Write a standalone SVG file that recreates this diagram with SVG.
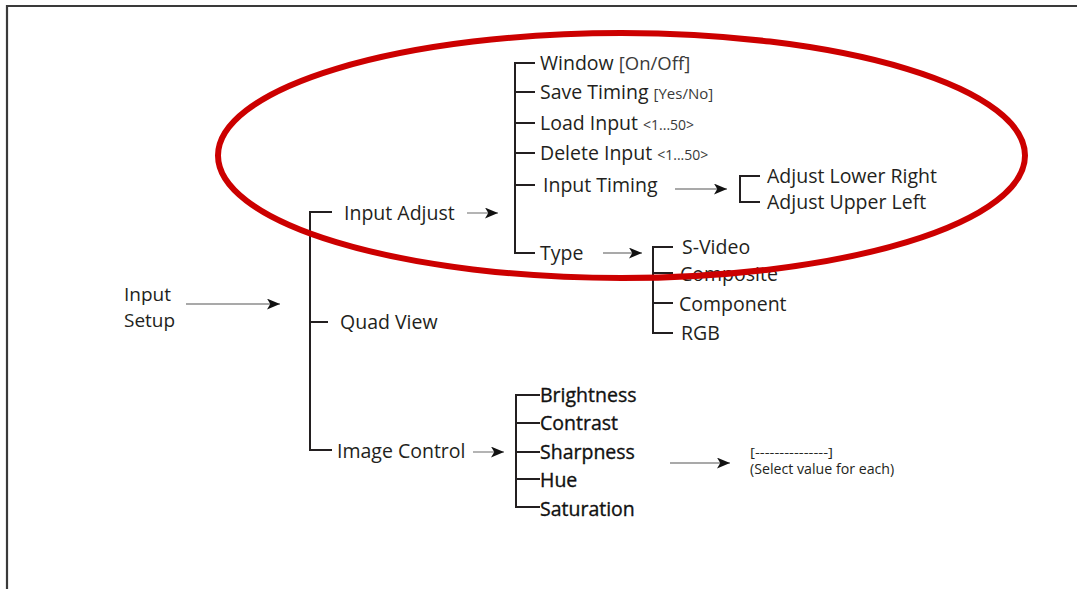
<svg xmlns="http://www.w3.org/2000/svg" width="1077" height="589" viewBox="0 0 1077 589">
  <defs>
    <marker id="arrow" viewBox="0 0 12 10" markerUnits="userSpaceOnUse" markerWidth="13" markerHeight="11" refX="12" refY="5" orient="auto">
      <path d="M0,0 L12,5 L0,10 L3,5 z" fill="#111"/>
    </marker>
    <style>
      text { font-family: "Open Sans", "Liberation Sans", sans-serif; fill: #231f20; }
      .lbl { font-size: 19.5px; }
      .heavy { fill: #111; stroke: #111; stroke-width: 0.35; }
      .sub { font-size: 15px; fill: #3a3a3a; }
      .sub-lg { font-size: 18.5px; fill: #3a3a3a; }
      .small { font-size: 14px; fill: #3a3a3a; }
      .note { font-size: 14.2px; }
      .dash { font-size: 12px; }
      .tree { fill: none; stroke: #231f20; stroke-width: 2; }
      .flow { fill: none; stroke: #8c8c8c; stroke-width: 1.3; marker-end: url(#arrow); }
      .frame { fill: none; stroke: #3a3a3a; stroke-width: 2.2; }
    </style>
  </defs>

  <rect width="1077" height="589" fill="#ffffff"/>
  <!-- page frame (top and left edges) -->
  <path class="frame" d="M7,589 V6 H1077"/>

  <!-- connectors -->
  <g id="connectors">
    <!-- arrows -->
    <line class="flow" x1="186" y1="304" x2="280" y2="304"/>
    <line class="flow" x1="467" y1="213" x2="498" y2="213"/>
    <line class="flow" x1="473" y1="452" x2="504" y2="452"/>
    <line class="flow" x1="675" y1="189" x2="727" y2="189"/>
    <line class="flow" x1="603" y1="253" x2="642" y2="253"/>
    <line class="flow" x1="670" y1="463" x2="730" y2="463"/>

    <!-- first level bracket -->
    <path class="tree" d="M332,212 H310 V450 H332 M310,322 H328"/>
    <!-- input adjust bracket -->
    <path class="tree" d="M535,63 H515 V253 H535 M515,92 H535 M515,123 H535 M515,153 H535 M515,185 H535"/>
    <!-- input timing bracket -->
    <path class="tree" d="M760,176 H740 V202 H760"/>
    <!-- type bracket -->
    <path class="tree" d="M673,247 H653 V333 H673 M653,273 H673 M653,303 H673"/>
    <!-- image control bracket -->
    <path class="tree" d="M540,395 H516 V507 H540 M516,423 H540 M516,452 H540 M516,479 H540"/>
  </g>

  <g id="input-setup">
    <text class="lbl" x="124" y="301" style="font-size:19px">Input<tspan x="124" dy="26">Setup</tspan></text>
  </g>

  <g id="input-adjust"><text class="lbl" x="344" y="220">Input Adjust</text></g>
  <g id="quad-view"><text class="lbl" x="340" y="329">Quad View</text></g>
  <g id="image-control"><text class="lbl" x="337" y="458">Image Control</text></g>

  <g id="window"><text class="lbl" x="540" y="70">Window <tspan class="sub-lg">[On/Off]</tspan></text></g>
  <g id="save-timing"><text class="lbl" x="540" y="99">Save Timing <tspan class="sub">[Yes/No]</tspan></text></g>
  <g id="load-input"><text class="lbl" x="540" y="130">Load Input <tspan class="small">&lt;1...50&gt;</tspan></text></g>
  <g id="delete-input"><text class="lbl" x="540" y="160">Delete Input <tspan class="small">&lt;1...50&gt;</tspan></text></g>
  <g id="input-timing"><text class="lbl" x="543" y="192">Input Timing</text></g>
  <g id="type"><text class="lbl" x="540" y="260">Type</text></g>

  <g id="adjust-lower-right"><text class="lbl" x="767" y="183">Adjust Lower Right</text></g>
  <g id="adjust-upper-left"><text class="lbl" x="767" y="209">Adjust Upper Left</text></g>

  <g id="s-video"><text class="lbl" x="682" y="254">S-Video</text></g>
  <g id="composite"><text class="lbl" x="680" y="281">Composite</text></g>
  <g id="component"><text class="lbl" x="679" y="311">Component</text></g>
  <g id="rgb"><text class="lbl" x="681" y="340">RGB</text></g>

  <g id="brightness"><text class="lbl heavy" x="540" y="402">Brightness</text></g>
  <g id="contrast"><text class="lbl heavy" x="540" y="430">Contrast</text></g>
  <g id="sharpness"><text class="lbl heavy" x="540" y="459">Sharpness</text></g>
  <g id="hue"><text class="lbl heavy" x="540" y="487">Hue</text></g>
  <g id="saturation"><text class="lbl heavy" x="540" y="516">Saturation</text></g>

  <g id="value-select">
    <text class="dash" x="750" y="457" textLength="83" lengthAdjust="spacingAndGlyphs">[---------------]</text>
    <text class="note" x="750" y="474">(Select value for each)</text>
  </g>

  <!-- highlight ring -->
  <ellipse cx="621.5" cy="155.5" rx="403.5" ry="122.5" fill="none" stroke="#cc0000" stroke-width="6"/>
</svg>
